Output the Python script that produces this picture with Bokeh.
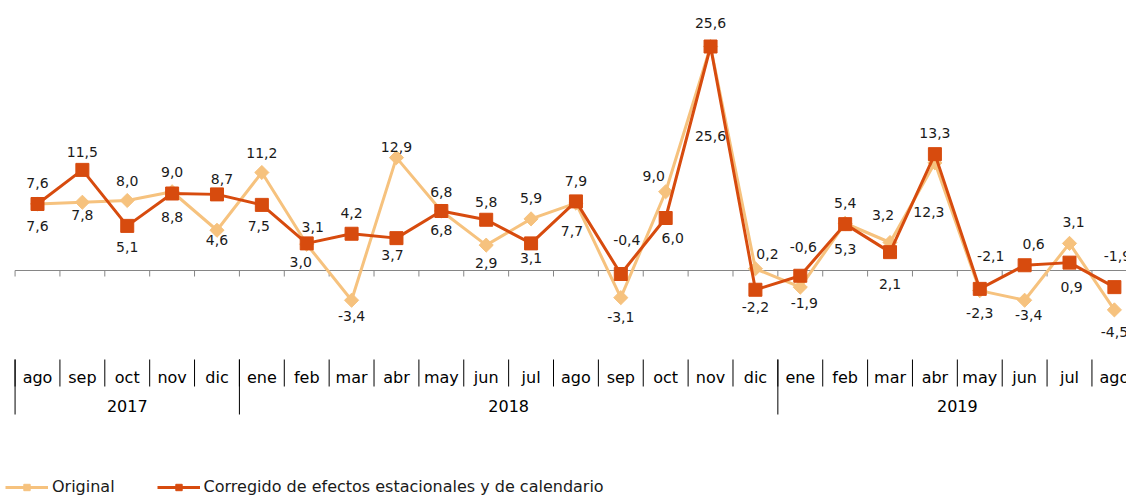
import math
from bokeh.plotting import figure
from bokeh.models import ColumnDataSource, Legend, LegendItem, Range1d
from bokeh.core.properties import value
from bokeh.embed import file_html
from bokeh.resources import INLINE

# ---------------- data ----------------
months = ["ago", "sep", "oct", "nov", "dic",
          "ene", "feb", "mar", "abr", "may", "jun", "jul", "ago", "sep", "oct", "nov", "dic",
          "ene", "feb", "mar", "abr", "may", "jun", "jul", "ago"]
years = ["2017", "2018", "2019"]
year_first = [0, 5, 17]      # index of first month of each year
year_last = [4, 16, 24]      # index of last month of each year

original = [7.6, 7.8, 8.0, 9.0, 4.6,
            11.2, 3.0, -3.4, 12.9, 6.8, 2.9, 5.9, 7.7, -3.1, 9.0, 25.6, 0.2,
            -1.9, 5.4, 3.2, 12.3, -2.3, -3.4, 3.1, -4.5]
corregido = [7.6, 11.5, 5.1, 8.8, 8.7,
             7.5, 3.1, 4.2, 3.7, 6.8, 5.8, 3.1, 7.9, -0.4, 6.0, 25.6, -2.2,
             -0.6, 5.3, 2.1, 13.3, -2.1, 0.6, 0.9, -1.9]

name_orig = "Original"
name_corr = "Corregido de efectos estacionales y de calendario"

# ---------------- label placement (screen px offsets) ----------------
orig_dy = [22, 13, -20, -20, 10,
           -20, 18, 16, -11, 19, 18, -21, 28, 19, -16, 89, -15,
           16, -20, -28, 49, 22, 15, -21, 22]
orig_dx = [0, 0, 0, 0, 0,
           0, -6, 0, 0, 0, 0, 0, -4, 0, -12, 0, 12,
           4, 0, -7, -6, 0, 4, 4, 0]
corr_dy = [-21, -18, 21, 23, -15,
           21, -16, -21, 17, -19, -18, 15, -20, -34, 20, -24, 17,
           -29, 25, 32, -21, -33, -21, 24, -31]
corr_dx = [0, 0, 0, 0, 5,
           -3, 6, 0, -4, 0, 0, 0, 0, 6, 7, 0, 0,
           3, 0, 0, 0, 11, 9, 2, 3]

# ---------------- layout ----------------
W, H = 1126, 496
STEP = 44.87          # px per month
X0 = 37               # px of first month
Y0 = 270              # px (from top) of value 0
PPU = 8.75            # px per unit

def ypx(py):
    """pixel (from top) -> data value"""
    return (Y0 - py) / PPU

C_ORIG = "#F6C27E"
C_CORR = "#D74B0E"
FONT = "DejaVu Sans"

p = figure(width=W, height=H, output_backend="svg", toolbar_location=None,
           x_range=Range1d(-X0 / STEP, (W - X0) / STEP),
           y_range=Range1d(ypx(H), ypx(0)),
           min_border=0, min_border_left=0, min_border_right=0,
           min_border_top=0, min_border_bottom=0)
p.axis.visible = False
p.grid.visible = False
p.outline_line_color = None
p.background_fill_color = "white"
p.border_fill_color = "white"

n = len(months)
xs = list(range(n))
bounds = [i - 0.5 for i in range(n + 1)]

# zero axis + ticks
p.segment(x0=[-0.5], y0=[0], x1=[n], y1=[0], line_color="#868686", line_width=1)
p.segment(x0=bounds, y0=[0] * len(bounds), x1=bounds, y1=[ypx(276)] * len(bounds),
          line_color="#868686", line_width=1)

# category table
p.segment(x0=bounds, y0=[ypx(359)] * len(bounds), x1=bounds, y1=[ypx(386)] * len(bounds),
          line_color="#000000", line_width=1)
ybounds = [year_first[k] - 0.5 for k in range(len(years))] + [year_last[-1] + 0.5]
p.segment(x0=ybounds, y0=[ypx(359)] * len(ybounds), x1=ybounds, y1=[ypx(414)] * len(ybounds),
          line_color="#000000", line_width=1)
p.text(x=xs, y=[ypx(377)] * n, text=months, text_font=value(FONT), text_font_size="16px",
       text_align="center", text_baseline="middle", text_color="#000000")
p.text(x=[(a + b) / 2 for a, b in zip(year_first, year_last)], y=[ypx(405)] * len(years),
       text=years, text_font=value(FONT), text_font_size="16px",
       text_align="center", text_baseline="middle", text_color="#000000")

# series
src_o = ColumnDataSource(dict(x=xs, y=original))
src_c = ColumnDataSource(dict(x=xs, y=corregido))
lo = p.line("x", "y", source=src_o, line_color=C_ORIG, line_width=3, line_join="round")
so = p.scatter("x", "y", source=src_o, marker="square", angle=math.pi / 4, size=10,
               fill_color=C_ORIG, line_color=C_ORIG)
lc = p.line("x", "y", source=src_c, line_color=C_CORR, line_width=3, line_join="round")
sc = p.scatter("x", "y", source=src_c, marker="square", size=13,
               fill_color=C_CORR, line_color=C_CORR)

def fmt(v):
    return f"{v:.1f}".replace(".", ",")

lab = ColumnDataSource(dict(
    x=xs + xs,
    y=original + corregido,
    text=[fmt(v) for v in original] + [fmt(v) for v in corregido],
    dx=orig_dx + corr_dx,
    dy=orig_dy + corr_dy,
))
p.text(x="x", y="y", text="text", x_offset="dx", y_offset="dy", source=lab,
       text_font=value(FONT), text_font_size="14px", text_color="#1a1a1a",
       text_align="center", text_baseline="middle")

legend = Legend(items=[LegendItem(label=name_orig, renderers=[lo, so]),
                       LegendItem(label=name_corr, renderers=[lc, sc])],
                orientation="horizontal", location=(5, 0),
                glyph_width=43, glyph_height=16, label_height=16, label_standoff=4,
                spacing=42, padding=0, margin=0,
                border_line_color=None, background_fill_alpha=0,
                label_text_font=FONT, label_text_font_size="16px",
                label_text_color="#1a1a1a")
p.add_layout(legend)

open("out.html", "w").write(file_html(p, INLINE))
